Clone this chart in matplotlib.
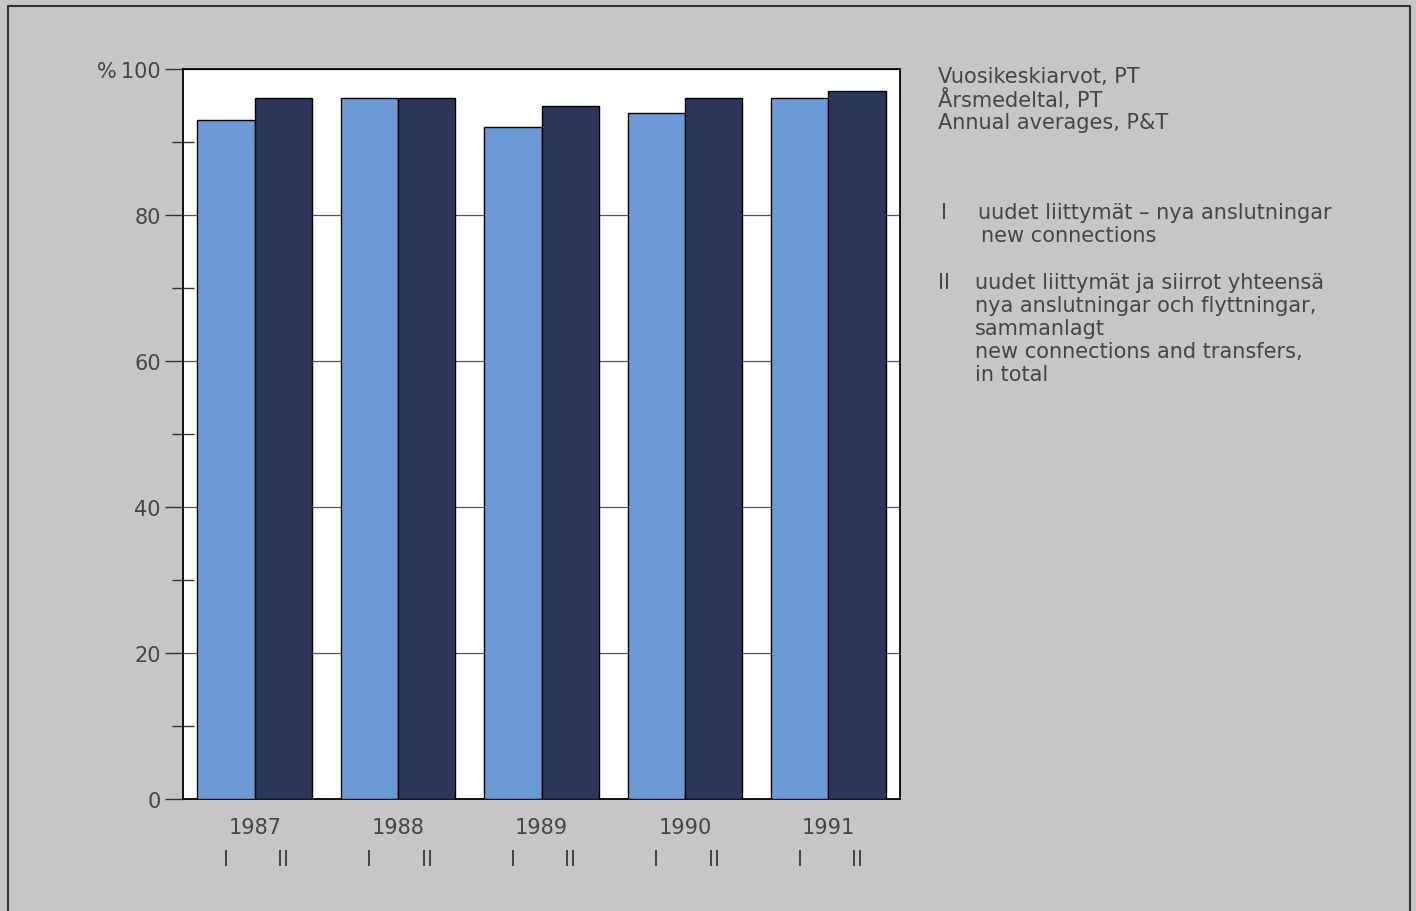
import matplotlib
matplotlib.use("Agg")
import matplotlib.pyplot as plt
from matplotlib.lines import Line2D
from matplotlib.ticker import FixedLocator
import numpy as np

years = ["1987", "1988", "1989", "1990", "1991"]
series_I = [93, 96, 92, 94, 96]
series_II = [96, 96, 95, 96, 97]
bar_labels = ["I", "II"]

header_lines = ["Vuosikeskiarvot, PT", "Årsmedeltal, PT", "Annual averages, P&T"]
legend_I = ["uudet liittymät \u2013 nya anslutningar", "new connections"]
legend_II = ["uudet liittymät ja siirrot yhteensä",
             "nya anslutningar och flyttningar,",
             "sammanlagt",
             "new connections and transfers,",
             "in total"]

BG = "#c6c6c6"
LIGHT = "#6b9ad6"
DARK = "#2b3659"
TXT = "#454545"
FS = 15

plt.rcParams['font.family'] = ['DejaVu Sans']

fig = plt.figure(figsize=(14.16, 9.12), dpi=100, facecolor=BG)
# outer frame (left, top, right edges)
fx = [8/1416, 8/1416, 1410/1416, 1410/1416]
fy = [0.0, 1 - 7/912, 1 - 7/912, 0.0]
fig.add_artist(Line2D(fx, fy, transform=fig.transFigure, color="#333333", lw=1.5))

ax = fig.add_axes([183/1416, 112/912, (900-183)/1416, (800-70)/912])
ax.set_facecolor("white")

x = np.arange(len(years))
w = 0.4
ax.bar(x - w/2, series_I, w, color=LIGHT, edgecolor="black", lw=1.0, zorder=3)
ax.bar(x + w/2, series_II, w, color=DARK, edgecolor="black", lw=1.0, zorder=3)

ax.set_xlim(-0.5, 4.5)
ax.set_ylim(0, 100)

# y axis
ax.set_yticks([0, 20, 40, 60, 80, 100])
ax.set_yticklabels(["0", "20", "40", "60", "80", "%\u2009100"], fontsize=FS, color=TXT)
ax.yaxis.set_minor_locator(FixedLocator([10, 30, 50, 70, 90]))
ax.tick_params(axis='y', which='major', direction='out', length=13, width=1.0,
               color="#333333", pad=3)
ax.tick_params(axis='y', which='minor', direction='inout', length=16, width=1.0,
               color="#333333")
ax.grid(axis='y', which='major', color="#555555", lw=0.9, zorder=1)

# x axis: years (major) and I/II (minor)
ax.set_xticks(x)
ax.set_xticklabels(years, fontsize=FS, color=TXT)
minor_pos = np.concatenate([x - w/2, x + w/2])
minor_lab = [bar_labels[0]] * len(x) + [bar_labels[1]] * len(x)
ax.set_xticks(minor_pos, minor=True)
ax.set_xticklabels(minor_lab, minor=True, fontsize=FS, color=TXT)
ax.tick_params(axis='x', which='major', length=0, pad=13)
ax.tick_params(axis='x', which='minor', length=0, pad=36)

for s in ax.spines.values():
    s.set_color("black")
    s.set_linewidth(1.3)

# right-hand texts
def ftext(px, py, s, **kw):
    fig.text(px/1416, 1 - py/912, s, fontsize=FS, color=TXT, va="center", ha="left", **kw)

for i, line in enumerate(header_lines):
    ftext(938, 77 + i*23, line)

ftext(941, 213, "I")
ftext(978, 213, legend_I[0])
ftext(981, 236, legend_I[1])

ftext(938, 283, "II")
for i, line in enumerate(legend_II):
    ftext(975, 283 + i*23, line)

fig.savefig("out.png", dpi=100, facecolor=BG)
